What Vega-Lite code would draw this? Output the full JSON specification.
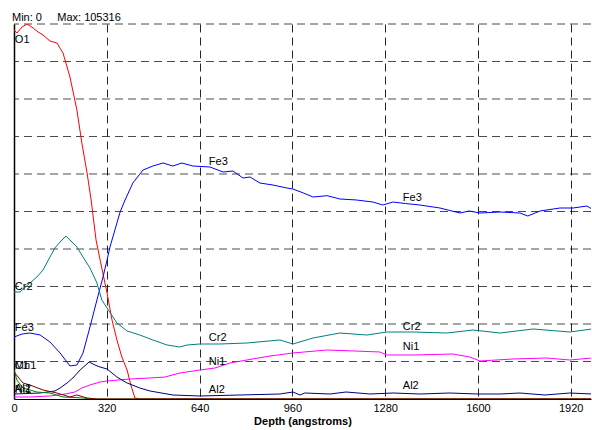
{
  "$schema": "https://vega.github.io/schema/vega-lite/v6.json",
  "width": 577,
  "height": 375,
  "autosize": {"type": "none"},
  "padding": {"left": 14, "top": 24, "right": 1, "bottom": 31},
  "background": "white",
  "config": {
    "font": "Liberation Sans",
    "view": {"stroke": null}
  },
  "title": {
    "text": "Min: 0\u00a0\u00a0\u00a0\u00a0\u00a0Max: 105316",
    "anchor": "start",
    "frame": "group",
    "fontSize": 11,
    "fontWeight": "normal",
    "font": "Liberation Sans",
    "color": "black",
    "baseline": "alphabetic",
    "offset": 3,
    "dx": -2,
    "dy": 11
  },
  "datasets": {
    "hgrid": [
      {"g": 10531.6}, {"g": 21063.2}, {"g": 31594.8}, {"g": 42126.4}, {"g": 52658},
      {"g": 63189.6}, {"g": 73721.2}, {"g": 84252.8}, {"g": 94784.4}, {"g": 105316}
    ],
    "series": [
      {"s": "O1", "d": 0, "v": 103630}, {"s": "O1", "d": 10, "v": 102787}, {"s": "O1", "d": 28, "v": 104472},
      {"s": "O1", "d": 45, "v": 105316}, {"s": "O1", "d": 66, "v": 104200}, {"s": "O1", "d": 83, "v": 103068},
      {"s": "O1", "d": 100, "v": 102226}, {"s": "O1", "d": 124, "v": 100541}, {"s": "O1", "d": 148, "v": 99979},
      {"s": "O1", "d": 169, "v": 97171}, {"s": "O1", "d": 193, "v": 90430}, {"s": "O1", "d": 217, "v": 81163},
      {"s": "O1", "d": 234, "v": 71895}, {"s": "O1", "d": 252, "v": 63470}, {"s": "O1", "d": 266, "v": 55887},
      {"s": "O1", "d": 283, "v": 44654}, {"s": "O1", "d": 297, "v": 39037}, {"s": "O1", "d": 321, "v": 29769},
      {"s": "O1", "d": 338, "v": 22186}, {"s": "O1", "d": 355, "v": 16570}, {"s": "O1", "d": 372, "v": 11795},
      {"s": "O1", "d": 390, "v": 8144}, {"s": "O1", "d": 403, "v": 3932}, {"s": "O1", "d": 417, "v": 281},
      {"s": "O1", "d": 434, "v": 0}, {"s": "O1", "d": 1993, "v": 0},

      {"s": "Fe3", "d": 0, "v": 17412}, {"s": "Fe3", "d": 28, "v": 18255}, {"s": "Fe3", "d": 55, "v": 18535},
      {"s": "Fe3", "d": 90, "v": 17974}, {"s": "Fe3", "d": 124, "v": 16008}, {"s": "Fe3", "d": 159, "v": 12919},
      {"s": "Fe3", "d": 193, "v": 9268}, {"s": "Fe3", "d": 217, "v": 9549}, {"s": "Fe3", "d": 238, "v": 12919},
      {"s": "Fe3", "d": 262, "v": 20220}, {"s": "Fe3", "d": 286, "v": 27803}, {"s": "Fe3", "d": 307, "v": 34262},
      {"s": "Fe3", "d": 321, "v": 39037}, {"s": "Fe3", "d": 331, "v": 42688}, {"s": "Fe3", "d": 366, "v": 52517},
      {"s": "Fe3", "d": 383, "v": 55887}, {"s": "Fe3", "d": 410, "v": 60661}, {"s": "Fe3", "d": 445, "v": 64312},
      {"s": "Fe3", "d": 479, "v": 65436}, {"s": "Fe3", "d": 514, "v": 66278}, {"s": "Fe3", "d": 548, "v": 65436},
      {"s": "Fe3", "d": 579, "v": 66278}, {"s": "Fe3", "d": 617, "v": 65436}, {"s": "Fe3", "d": 676, "v": 65155},
      {"s": "Fe3", "d": 721, "v": 63751}, {"s": "Fe3", "d": 755, "v": 64032}, {"s": "Fe3", "d": 790, "v": 62066},
      {"s": "Fe3", "d": 814, "v": 62346}, {"s": "Fe3", "d": 848, "v": 60661}, {"s": "Fe3", "d": 893, "v": 60100},
      {"s": "Fe3", "d": 941, "v": 59257}, {"s": "Fe3", "d": 962, "v": 58976}, {"s": "Fe3", "d": 1000, "v": 57800},
      {"s": "Fe3", "d": 1031, "v": 56730}, {"s": "Fe3", "d": 1080, "v": 57100}, {"s": "Fe3", "d": 1124, "v": 56168},
      {"s": "Fe3", "d": 1180, "v": 55900}, {"s": "Fe3", "d": 1238, "v": 55325}, {"s": "Fe3", "d": 1272, "v": 54483},
      {"s": "Fe3", "d": 1307, "v": 55325}, {"s": "Fe3", "d": 1350, "v": 54900}, {"s": "Fe3", "d": 1400, "v": 54483},
      {"s": "Fe3", "d": 1469, "v": 53640}, {"s": "Fe3", "d": 1538, "v": 52236}, {"s": "Fe3", "d": 1570, "v": 52800},
      {"s": "Fe3", "d": 1607, "v": 52236}, {"s": "Fe3", "d": 1676, "v": 52517}, {"s": "Fe3", "d": 1745, "v": 52236},
      {"s": "Fe3", "d": 1772, "v": 51394}, {"s": "Fe3", "d": 1814, "v": 52798}, {"s": "Fe3", "d": 1883, "v": 53640},
      {"s": "Fe3", "d": 1928, "v": 53640}, {"s": "Fe3", "d": 1976, "v": 54202}, {"s": "Fe3", "d": 1993, "v": 53360},

      {"s": "Cr2", "d": 0, "v": 30050}, {"s": "Cr2", "d": 21, "v": 30050}, {"s": "Cr2", "d": 55, "v": 32577},
      {"s": "Cr2", "d": 79, "v": 34262}, {"s": "Cr2", "d": 100, "v": 36228}, {"s": "Cr2", "d": 124, "v": 39879},
      {"s": "Cr2", "d": 141, "v": 42407}, {"s": "Cr2", "d": 159, "v": 44092}, {"s": "Cr2", "d": 179, "v": 45777},
      {"s": "Cr2", "d": 200, "v": 44092}, {"s": "Cr2", "d": 217, "v": 42688}, {"s": "Cr2", "d": 238, "v": 39879},
      {"s": "Cr2", "d": 262, "v": 36790}, {"s": "Cr2", "d": 286, "v": 32577}, {"s": "Cr2", "d": 303, "v": 27803},
      {"s": "Cr2", "d": 321, "v": 25556}, {"s": "Cr2", "d": 355, "v": 21344}, {"s": "Cr2", "d": 390, "v": 19097},
      {"s": "Cr2", "d": 434, "v": 17974}, {"s": "Cr2", "d": 479, "v": 16570}, {"s": "Cr2", "d": 528, "v": 15165},
      {"s": "Cr2", "d": 572, "v": 14604}, {"s": "Cr2", "d": 597, "v": 15165}, {"s": "Cr2", "d": 641, "v": 15446},
      {"s": "Cr2", "d": 710, "v": 15446}, {"s": "Cr2", "d": 803, "v": 15727}, {"s": "Cr2", "d": 917, "v": 16570},
      {"s": "Cr2", "d": 962, "v": 15446}, {"s": "Cr2", "d": 1031, "v": 17131}, {"s": "Cr2", "d": 1124, "v": 18535},
      {"s": "Cr2", "d": 1217, "v": 17974}, {"s": "Cr2", "d": 1286, "v": 18816}, {"s": "Cr2", "d": 1376, "v": 18816},
      {"s": "Cr2", "d": 1493, "v": 18535}, {"s": "Cr2", "d": 1583, "v": 19378}, {"s": "Cr2", "d": 1676, "v": 18535},
      {"s": "Cr2", "d": 1790, "v": 19659}, {"s": "Cr2", "d": 1917, "v": 18816}, {"s": "Cr2", "d": 1993, "v": 19659},

      {"s": "Ni1", "d": 0, "v": 562}, {"s": "Ni1", "d": 55, "v": 562}, {"s": "Ni1", "d": 124, "v": 843},
      {"s": "Ni1", "d": 176, "v": 1404}, {"s": "Ni1", "d": 210, "v": 1966}, {"s": "Ni1", "d": 234, "v": 3089},
      {"s": "Ni1", "d": 262, "v": 3932}, {"s": "Ni1", "d": 297, "v": 4774}, {"s": "Ni1", "d": 321, "v": 5055},
      {"s": "Ni1", "d": 400, "v": 5617}, {"s": "Ni1", "d": 469, "v": 5898}, {"s": "Ni1", "d": 521, "v": 6178},
      {"s": "Ni1", "d": 572, "v": 7302}, {"s": "Ni1", "d": 641, "v": 8144}, {"s": "Ni1", "d": 693, "v": 8706},
      {"s": "Ni1", "d": 745, "v": 10110}, {"s": "Ni1", "d": 803, "v": 10953}, {"s": "Ni1", "d": 883, "v": 12076},
      {"s": "Ni1", "d": 962, "v": 12919}, {"s": "Ni1", "d": 1079, "v": 13761}, {"s": "Ni1", "d": 1176, "v": 13480},
      {"s": "Ni1", "d": 1262, "v": 13199}, {"s": "Ni1", "d": 1286, "v": 12357}, {"s": "Ni1", "d": 1376, "v": 12357},
      {"s": "Ni1", "d": 1514, "v": 12638}, {"s": "Ni1", "d": 1572, "v": 11795}, {"s": "Ni1", "d": 1607, "v": 10672},
      {"s": "Ni1", "d": 1721, "v": 11234}, {"s": "Ni1", "d": 1838, "v": 11514}, {"s": "Ni1", "d": 1917, "v": 10953},
      {"s": "Ni1", "d": 1993, "v": 11514},

      {"s": "Al2", "d": 0, "v": 1404}, {"s": "Al2", "d": 90, "v": 1685}, {"s": "Al2", "d": 141, "v": 2247},
      {"s": "Al2", "d": 159, "v": 3089}, {"s": "Al2", "d": 183, "v": 4493}, {"s": "Al2", "d": 203, "v": 5898},
      {"s": "Al2", "d": 228, "v": 8144}, {"s": "Al2", "d": 259, "v": 10391}, {"s": "Al2", "d": 279, "v": 9549},
      {"s": "Al2", "d": 297, "v": 8987}, {"s": "Al2", "d": 321, "v": 8425}, {"s": "Al2", "d": 355, "v": 6178},
      {"s": "Al2", "d": 390, "v": 4493}, {"s": "Al2", "d": 434, "v": 3089}, {"s": "Al2", "d": 469, "v": 2247},
      {"s": "Al2", "d": 548, "v": 1123}, {"s": "Al2", "d": 641, "v": 843}, {"s": "Al2", "d": 779, "v": 1123},
      {"s": "Al2", "d": 917, "v": 1404}, {"s": "Al2", "d": 962, "v": 1966}, {"s": "Al2", "d": 986, "v": 1123},
      {"s": "Al2", "d": 1003, "v": 1685}, {"s": "Al2", "d": 1090, "v": 1404}, {"s": "Al2", "d": 1145, "v": 1966},
      {"s": "Al2", "d": 1228, "v": 1404}, {"s": "Al2", "d": 1307, "v": 1685}, {"s": "Al2", "d": 1400, "v": 1404},
      {"s": "Al2", "d": 1503, "v": 1685}, {"s": "Al2", "d": 1600, "v": 1404}, {"s": "Al2", "d": 1676, "v": 1404},
      {"s": "Al2", "d": 1745, "v": 1685}, {"s": "Al2", "d": 1831, "v": 1123}, {"s": "Al2", "d": 1917, "v": 1685},
      {"s": "Al2", "d": 1993, "v": 1404},

      {"s": "C1", "d": 0, "v": 8144}, {"s": "C1", "d": 10, "v": 5336}, {"s": "C1", "d": 31, "v": 3089},
      {"s": "C1", "d": 79, "v": 1966}, {"s": "C1", "d": 124, "v": 1685}, {"s": "C1", "d": 169, "v": 562},
      {"s": "C1", "d": 238, "v": 281}, {"s": "C1", "d": 262, "v": 0}, {"s": "C1", "d": 1993, "v": 0},

      {"s": "Mn1", "d": 0, "v": 7864}, {"s": "Mn1", "d": 3, "v": 7302}, {"s": "Mn1", "d": 31, "v": 4493},
      {"s": "Mn1", "d": 55, "v": 3932}, {"s": "Mn1", "d": 100, "v": 2528}, {"s": "Mn1", "d": 148, "v": 1685},
      {"s": "Mn1", "d": 193, "v": 562}, {"s": "Mn1", "d": 217, "v": 1123}, {"s": "Mn1", "d": 252, "v": 281},
      {"s": "Mn1", "d": 286, "v": 0}, {"s": "Mn1", "d": 1993, "v": 0}
    ],
    "labels": [
      {"label": "O1", "d": 3, "v": 100822},
      {"label": "Cr2", "d": 3, "v": 31454},
      {"label": "Fe3", "d": 3, "v": 19940},
      {"label": "Mn1", "d": 3, "v": 9268},
      {"label": "C1", "d": 3, "v": 9268},
      {"label": "Al2", "d": 3, "v": 2808},
      {"label": "Ni1", "d": 3, "v": 2400},
      {"label": "Fe3", "d": 672, "v": 66559},
      {"label": "Cr2", "d": 672, "v": 17131},
      {"label": "Ni1", "d": 672, "v": 10391},
      {"label": "Al2", "d": 672, "v": 2528},
      {"label": "Fe3", "d": 1341, "v": 56449},
      {"label": "Cr2", "d": 1341, "v": 20220},
      {"label": "Ni1", "d": 1341, "v": 14604},
      {"label": "Al2", "d": 1341, "v": 3651}
    ]
  },
  "layer": [
    {
      "data": {"name": "hgrid"},
      "mark": {"type": "rule", "color": "black", "strokeDash": [8, 5], "strokeWidth": 1, "opacity": 0.7},
      "encoding": {
        "y": {"field": "g", "type": "quantitative"}
      }
    },
    {
      "data": {"name": "series"},
      "mark": {"type": "line", "strokeWidth": 1, "clip": true, "interpolate": "linear"},
      "encoding": {
        "x": {
          "field": "d", "type": "quantitative",
          "scale": {"domain": [0, 1990], "nice": false, "zero": true},
          "axis": {
            "values": [0, 320, 640, 960, 1280, 1600, 1920],
            "format": "d",
            "title": "Depth (angstroms)",
            "titleFont": "Liberation Sans", "titleFontSize": 11, "titleFontWeight": "bold", "titleColor": "black",
            "titlePadding": 2,
            "labelFont": "Liberation Sans", "labelFontSize": 11, "labelColor": "black",
            "labelPadding": 3, "labelOverlap": false, "labelBound": false, "labelFlush": false,
            "ticks": false,
            "domain": true, "domainColor": "black", "domainWidth": 1,
            "grid": true, "gridColor": "black", "gridDash": [8, 5], "gridWidth": 1, "gridOpacity": 0.85
          }
        },
        "y": {
          "field": "v", "type": "quantitative",
          "scale": {"domain": [0, 105316], "nice": false, "zero": true},
          "axis": {
            "title": null, "labels": false, "ticks": false, "grid": false,
            "domain": true, "domainColor": "black", "domainWidth": 1.5
          }
        },
        "color": {
          "field": "s", "type": "nominal",
          "scale": {
            "domain": ["O1", "C1", "Mn1", "Al2", "Ni1", "Cr2", "Fe3"],
            "range": ["#ff0000", "#008000", "#800000", "#000080", "#ff00ff", "#008080", "#0000ff"]
          },
          "legend": null
        }
      }
    },
    {
      "data": {"name": "labels"},
      "mark": {"type": "text", "align": "left", "baseline": "middle", "font": "Liberation Sans", "fontSize": 11, "color": "black"},
      "encoding": {
        "x": {"field": "d", "type": "quantitative"},
        "y": {"field": "v", "type": "quantitative"},
        "text": {"field": "label", "type": "nominal"}
      }
    }
  ]
}
